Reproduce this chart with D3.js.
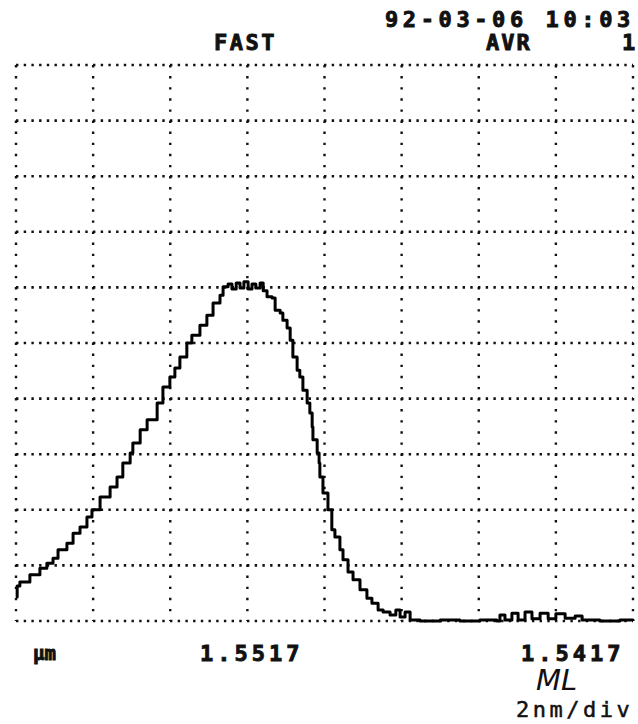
<!DOCTYPE html>
<html>
<head>
<meta charset="utf-8">
<script src="https://cdn.jsdelivr.net/npm/d3@7"></script>
<style>
  html, body { margin: 0; padding: 0; background: #fff; }
  svg { display: block; }
  .prt { font-family: "DejaVu Sans Mono", "Liberation Mono", monospace; font-weight: bold; fill: #111; stroke: #111; stroke-width: 0.9; }
  .prt.light { font-weight: normal; stroke-width: 0.5; }
</style>
</head>
<body>
<svg id="chart" width="638" height="724"></svg>
<script>
// ---- data (wavelength offset in nm, 2 nm/div; level in divisions) ----
const wavelengthNm = [
  0.00, 0.03, 0.10, 0.36, 0.62, 0.80, 0.96, 1.09, 1.32, 1.48, 1.66, 1.84, 1.97, 2.18, 2.44, 2.62,
  2.77, 2.96, 3.03, 3.22, 3.40, 3.66, 3.81, 3.99, 4.12, 4.25, 4.43, 4.56, 4.77, 4.95, 5.11, 5.29,
  5.37, 5.50, 5.60, 5.71, 5.81, 5.91, 6.02, 6.12, 6.22, 6.33, 6.41, 6.51, 6.64, 6.72, 6.85, 6.92,
  7.03, 7.11, 7.18, 7.29, 7.36, 7.44, 7.55, 7.62, 7.68, 7.70, 7.81, 7.86, 7.88, 7.96, 8.09, 8.19,
  8.27, 8.40, 8.48, 8.61, 8.74, 8.92, 9.10, 9.23, 9.39, 9.52, 9.70, 9.85, 9.96, 10.09, 10.22, 10.48,
  11.00, 11.51, 12.03, 12.47, 12.55, 12.68, 12.86, 13.02, 13.20, 13.38, 13.59, 13.80, 14.00, 14.24, 14.50, 14.68,
  15.14, 15.66, 16.00
];
const levelDiv = [
  0.43, 0.63, 0.70, 0.83, 0.95, 1.04, 1.13, 1.28, 1.40, 1.58, 1.69, 1.87, 2.00, 2.23, 2.41, 2.59,
  2.84, 3.02, 3.20, 3.44, 3.62, 3.92, 4.21, 4.39, 4.55, 4.75, 5.00, 5.14, 5.32, 5.50, 5.72, 5.86,
  6.01, 6.06, 5.97, 6.08, 5.99, 6.10, 5.97, 6.06, 5.99, 6.08, 5.94, 5.83, 5.81, 5.59, 5.54, 5.41,
  5.27, 5.05, 4.75, 4.51, 4.39, 4.15, 3.92, 3.74, 3.49, 3.26, 3.02, 2.84, 2.59, 2.30, 2.00, 1.64,
  1.51, 1.28, 1.10, 0.88, 0.74, 0.56, 0.41, 0.32, 0.20, 0.16, 0.11, 0.20, 0.07, 0.16, 0.02, 0.00,
  0.02, 0.00, 0.02, 0.00, 0.11, 0.02, 0.14, 0.02, 0.16, 0.04, 0.14, 0.04, 0.13, 0.05, 0.09, 0.02,
  0.00, 0.02, 0.00
];
const xGridNm = [0, 2, 4, 6, 8, 10, 12, 14, 16];
const yGridDiv = [0, 1, 2, 3, 4, 5, 6, 7, 8, 9, 10];
const headerDate = "92-03-06 10:03";
const headerMode = "FAST";
const headerAvg = "AVR";
const headerAvgN = "1";
const unitLabel = "µm";
const wlLabelLeft = "1.5517";
const wlLabelRight = "1.5417";
const scaleLabel = "2nm/div";
const noteLabel = "ML";

// ---- layout ----
const svg = d3.select("#chart");
svg.append("rect").attr("width", 638).attr("height", 724).attr("fill", "#fff");

const x = d3.scaleLinear().domain([0, 16]).range([16, 633]);
const y = d3.scaleLinear().domain([0, 10]).range([621, 65]);

// dotted grid
const grid = svg.append("g");
grid.selectAll("line.h").data(yGridDiv).join("line")
  .attr("class", "h")
  .attr("x1", x(0)).attr("x2", x(16))
  .attr("y1", d => y(d)).attr("y2", d => y(d))
  .attr("stroke", "#111").attr("stroke-width", 2.6)
  .attr("stroke-dasharray", "2.4,5.3");
grid.selectAll("line.v").data(xGridNm).join("line")
  .attr("class", "v")
  .attr("x1", d => x(d)).attr("x2", d => x(d))
  .attr("y1", y(10)).attr("y2", y(0))
  .attr("stroke", "#111").attr("stroke-width", 2.4)
  .attr("stroke-dasharray", "2.4,8.7");

// trace
const pts = wavelengthNm.map((w, i) => [w, levelDiv[i]]);
const line = d3.line().x(d => x(d[0])).y(d => y(d[1])).curve(d3.curveStepAfter);
svg.append("path").datum(pts)
  .attr("d", line)
  .attr("fill", "none").attr("stroke", "#000")
  .attr("stroke-width", 3).attr("stroke-linejoin", "round");

// texts
function prt(txt, px, py, size, ls, cls) {
  svg.append("text").attr("class", "prt" + (cls ? " " + cls : ""))
    .attr("x", px).attr("y", py)
    .attr("font-size", size).attr("letter-spacing", ls)
    .text(txt);
}
prt(headerDate, 385, 27, 22, 4.6);
prt(headerMode, 214, 50, 22, 2.5);
prt(headerAvg, 486, 50, 22, 2);
prt(headerAvgN, 622, 50, 22, 0);
prt(unitLabel, 33, 660, 19, 0);
prt(wlLabelLeft, 200, 661, 22, 4);
prt(wlLabelRight, 521, 661, 22, 4);
prt(scaleLabel, 516, 717, 22, 3.5, "light");

svg.append("text")
  .attr("x", 536).attr("y", 690)
  .attr("font-family", "DejaVu Sans, sans-serif")
  .attr("font-style", "italic").attr("font-weight", "normal")
  .attr("font-size", 29).attr("fill", "#111")
  .text(noteLabel);
</script>
</body>
</html>
